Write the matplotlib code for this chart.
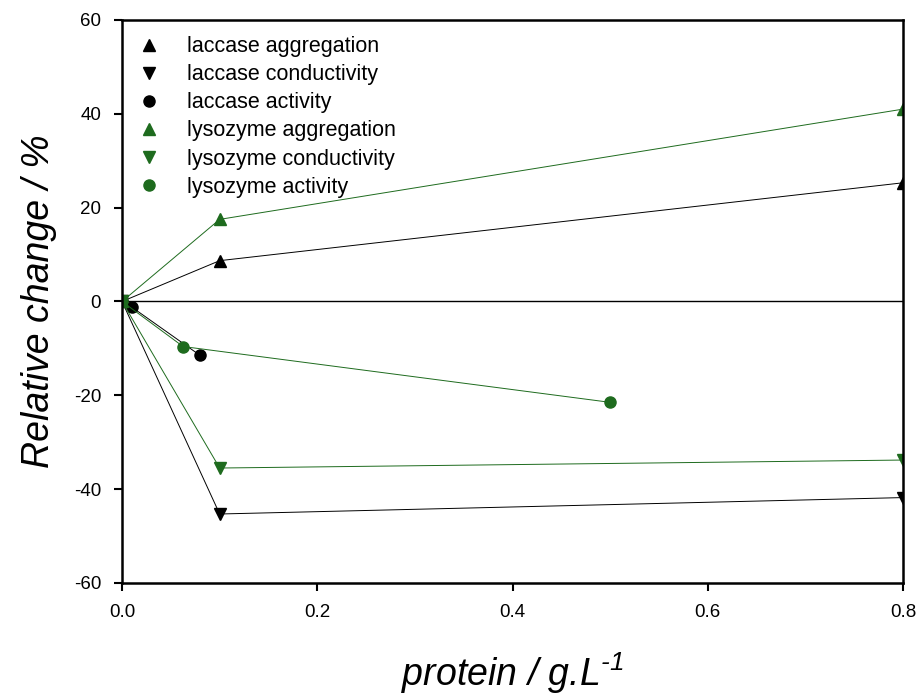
import numpy as np
import matplotlib.pyplot as plt

plt.rcParams['font.family'] = ['Liberation Sans', 'DejaVu Sans']
plt.rcParams['axes.unicode_minus'] = False
plt.rcParams['mathtext.fontset'] = 'custom'
plt.rcParams['mathtext.rm'] = 'Liberation Sans:italic'
plt.rcParams['mathtext.it'] = 'Liberation Sans:italic'

# data
lac_agg_x = [0, 0.1, 0.8]
lac_agg_y = [0, 8.7, 25.3]
lac_con_x = [0, 0.1, 0.8]
lac_con_y = [0, -45.3, -41.8]
lac_act_x = [0, 0.01, 0.08]
lac_act_y = [0, -1.2, -11.5]
lys_agg_x = [0, 0.1, 0.8]
lys_agg_y = [0, 17.5, 41.0]
lys_con_x = [0, 0.1, 0.8]
lys_con_y = [0, -35.5, -33.8]
lys_act_x = [0, 0.0625, 0.5]
lys_act_y = [0, -9.6, -21.5]

verde = "#1e6b1e"

fig = plt.figure(figsize=(9.19, 6.99), dpi=100)
ax = fig.add_axes([0.1328, 0.166, 0.8498, 0.8054])

ax.axhline(0, color="black", lw=1.0, zorder=1)

ms = 8
series = [
    (lac_agg_x, lac_agg_y, "black", "^", "laccase aggregation"),
    (lac_con_x, lac_con_y, "black", "v", "laccase conductivity"),
    (lac_act_x, lac_act_y, "black", "o", "laccase activity"),
    (lys_agg_x, lys_agg_y, verde, "^", "lysozyme aggregation"),
    (lys_con_x, lys_con_y, verde, "v", "lysozyme conductivity"),
    (lys_act_x, lys_act_y, verde, "o", "lysozyme activity"),
]
for x, y, c, m, lab in series:
    ax.plot(x, y, color=c, lw=0.7)
    ax.plot(x, y, color=c, lw=0, marker=m, ms=ms, label=lab)

ax.set_xlim(0, 0.8)
ax.set_ylim(-60, 60)
ax.set_xticks([0.0, 0.2, 0.4, 0.6, 0.8])
ax.set_xticklabels(["0.0", "0.2", "0.4", "0.6", "0.8"])
ax.set_yticks([-60, -40, -20, 0, 20, 40, 60])
ax.tick_params(direction="out", length=6, width=1.5, labelsize=13.5, pad=9)
for s in ax.spines.values():
    s.set_linewidth(1.8)

ax.set_xlabel("protein / g.L$^{\\text{-1}}$", fontsize=27, style="italic", labelpad=21)
ax.set_ylabel("Relative change / %", fontsize=27, style="italic", labelpad=12)

ax.legend(loc="upper left", frameon=False, fontsize=15.5, handlelength=1.0,
          handletextpad=1.25, labelspacing=0.33, borderaxespad=0.35,
          bbox_to_anchor=(0.0, 1.0))

fig.savefig("out.png", dpi=100)
